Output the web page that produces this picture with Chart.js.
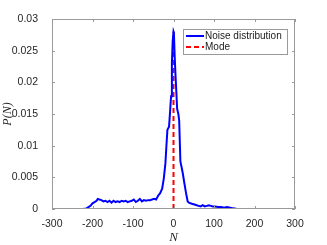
<!DOCTYPE html>
<html>
<head>
<meta charset="utf-8">
<script src="https://cdn.jsdelivr.net/npm/chart.js@4"></script>
<style>
  html, body { margin: 0; padding: 0; background: #fff; }
  #wrap { width: 327px; height: 245px; }
</style>
</head>
<body>
<div id="wrap"><canvas id="chart"></canvas></div>
<script>
// noise distribution
const noiseN = [-223, -215, -210, -205, -200, -195, -190, -187, -183, -178, -173, -168, -163, -158, -153, -148,
  -143, -138, -133, -128, -123, -118, -113, -108, -103, -98, -93, -88, -83, -78, -73, -68, -63, -58, -53, -48,
  -43, -38, -33, -28, -24, -20, -17, -15, -11, -8, -6, -4, -2, 0, 1, 3, 5, 7, 9, 12, 14, 17, 20, 23, 27, 31,
  35, 38, 42, 47, 52, 57, 62, 67, 72, 77, 82, 87, 92, 97, 102, 110, 118, 125, 132, 140, 148, 155, 165, 175,
  190, 205];
const noiseP = [0, 0.0001, 0.0003, 0.0005, 0.0009, 0.0011, 0.0013, 0.0016, 0.0015, 0.0014, 0.0012, 0.0013,
  0.0011, 0.0013, 0.001, 0.0013, 0.0011, 0.0012, 0.0011, 0.0013, 0.0012, 0.0013, 0.0011, 0.0012, 0.0013,
  0.0015, 0.0011, 0.0013, 0.0016, 0.0012, 0.0014, 0.0013, 0.0014, 0.0014, 0.0015, 0.0016, 0.0015, 0.0021,
  0.0025, 0.0032, 0.0048, 0.0072, 0.0105, 0.0125, 0.013, 0.0158, 0.0178, 0.023, 0.0265, 0.028, 0.0278,
  0.024, 0.021, 0.0185, 0.0158, 0.015, 0.014, 0.0075, 0.0066, 0.0056, 0.004, 0.0025, 0.0012, 0.001, 0.0009,
  0.0008, 0.0007, 0.0006, 0.0005, 0.0004, 0.0006, 0.0004, 0.0005, 0.0006, 0.0005, 0.0004, 0.0004, 0.0003,
  0.0003, 0.0002, 0.0003, 0.0002, 0.0001, 0.00005, 0, 0, 0, 0];

const modeN = [0, 0];
const modeP = [0, 0.028];

const xTicks = [-300, -200, -100, 0, 100, 200, 300];
const yTicks = [0, 0.005, 0.01, 0.015, 0.02, 0.025, 0.03];

const seriesNames = ['Noise distribution', 'Mode'];

const toPoints = (xs, ys) => xs.map((x, i) => ({x: x, y: ys[i]}));

const FONT = 'Liberation Sans, Arial, sans-serif';
const SERIF = 'Liberation Serif, serif';

// MATLAB style box with inward ticks on all sides
const boxPlugin = {
  id: 'box',
  afterDraw(chart) {
    const {ctx, chartArea: a, scales} = chart;
    ctx.save();
    ctx.strokeStyle = '#9a9a9a';
    ctx.lineWidth = 1;
    ctx.strokeRect(a.left + 0.5, a.top + 0.5, a.right - a.left - 1, a.bottom - a.top - 1);
    ctx.beginPath();
    const t = 3;
    xTicks.forEach(v => {
      const px = Math.round(scales.x.getPixelForValue(v)) + 0.5;
      ctx.moveTo(px, a.bottom); ctx.lineTo(px, a.bottom - t);
      ctx.moveTo(px, a.top); ctx.lineTo(px, a.top + t);
    });
    yTicks.forEach(v => {
      const py = Math.round(scales.y.getPixelForValue(v)) + 0.5;
      ctx.moveTo(a.left, py); ctx.lineTo(a.left + t, py);
      ctx.moveTo(a.right, py); ctx.lineTo(a.right - t, py);
    });
    ctx.stroke();
    ctx.restore();
  }
};

// legend box inside the plot, top right
const legendPlugin = {
  id: 'boxLegend',
  afterDraw(chart) {
    const ctx = chart.ctx;
    const x0 = 183, y0 = 29, w = 104, h = 25;
    ctx.save();
    ctx.fillStyle = '#fff';
    ctx.fillRect(x0, y0, w, h);
    ctx.strokeStyle = '#9a9a9a';
    ctx.lineWidth = 1;
    ctx.strokeRect(x0 + 0.5, y0 + 0.5, w, h);
    chart.data.datasets.forEach((ds, i) => {
      const y = y0 + 7 + i * 11;
      ctx.strokeStyle = ds.borderColor;
      ctx.lineWidth = 2;
      ctx.setLineDash(ds.borderDash || []);
      ctx.beginPath();
      ctx.moveTo(x0 + 3, y);
      ctx.lineTo(x0 + 21, y);
      ctx.stroke();
      ctx.setLineDash([]);
      ctx.fillStyle = '#1a1a1a';
      ctx.font = '10px ' + FONT;
      ctx.textBaseline = 'middle';
      ctx.fillText(ds.label, x0 + 22, y + 0.5);
    });
    ctx.restore();
  }
};

new Chart(document.getElementById('chart'), {
  type: 'scatter',
  data: {
    datasets: [
      {
        label: seriesNames[0],
        data: toPoints(noiseN, noiseP),
        showLine: true,
        borderColor: '#0000ff',
        borderWidth: 2,
        pointRadius: 0,
        tension: 0
      },
      {
        label: seriesNames[1],
        data: toPoints(modeN, modeP),
        showLine: true,
        borderColor: '#ff0000',
        borderWidth: 2,
        borderDash: [5, 3],
        pointRadius: 0
      }
    ]
  },
  options: {
    responsive: true,
    maintainAspectRatio: false,
    animation: false,
    layout: { padding: { top: 19, right: 32, left: 0, bottom: 0 } },
    plugins: {
      legend: { display: false },
      tooltip: { enabled: false }
    },
    scales: {
      x: {
        type: 'linear',
        min: -300, max: 300,
        afterBuildTicks: s => { s.ticks = xTicks.map(v => ({value: v})); },
        afterFit: s => { s.height = 36; },
        grid: { display: false },
        border: { display: false },
        ticks: { color: '#262626', font: { family: FONT, size: 10.5 }, padding: 1, maxRotation: 0 },
        title: {
          display: true, text: 'N', color: '#262626', padding: { top: -2, bottom: 0 },
          font: { family: SERIF, size: 13, style: 'italic' }
        }
      },
      y: {
        min: 0, max: 0.03,
        afterBuildTicks: s => { s.ticks = yTicks.map(v => ({value: v})); },
        afterFit: s => { s.width = 52; },
        grid: { display: false },
        border: { display: false },
        ticks: {
          color: '#262626', font: { family: FONT, size: 10.5 }, padding: 6,
          callback: v => String(Number(v.toFixed(3)))
        },
        title: {
          display: true, text: 'P(N)', color: '#262626', padding: { top: 1, bottom: 0 },
          font: { family: SERIF, size: 12, style: 'italic' }
        }
      }
    }
  },
  plugins: [boxPlugin, legendPlugin]
});
</script>
</body>
</html>
